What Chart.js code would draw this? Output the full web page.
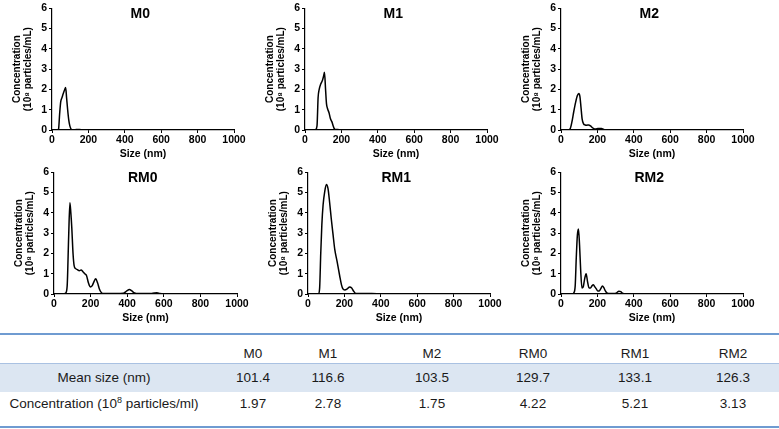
<!DOCTYPE html>
<html>
<head>
<meta charset="utf-8">
<script src="https://cdn.jsdelivr.net/npm/chart.js@4/dist/chart.umd.min.js"></script>
<style>
  body { margin: 0; width: 779px; height: 429px; position: relative; background: #fff; overflow: hidden;
         font-family: "Liberation Sans", Arial, sans-serif; }
  canvas { position: absolute; }
  .line { position: absolute; left: 0; width: 779px; height: 2px; background: #6f9bd1; }
  .band { position: absolute; left: 0; width: 779px; top: 363px; height: 28px; background: #dce6f2; border-top: 1px solid #a9c1e2; }
  .cell { position: absolute; transform: translate(-50%, -50%); font-size: 13.5px; color: #1a1a1a; white-space: nowrap; }
  sup { font-size: 9px; }
</style>
</head>
<body>
<canvas id="m0"></canvas>
<canvas id="m1"></canvas>
<canvas id="m2"></canvas>
<canvas id="rm0"></canvas>
<canvas id="rm1"></canvas>
<canvas id="rm2"></canvas>

<div class="line" style="top:333px"></div>
<div class="band"></div>
<div class="line" style="top:426px"></div>
<div id="table"></div>

<script>
// size distributions (nm vs 10^8 particles/mL)
const m0Size = [30, 36, 42, 48, 55, 62, 70, 75, 80, 86, 92, 98, 104, 110, 125, 140, 152, 165, 175];
const m0Conc = [0, 0.05, 0.8, 1.4, 1.6, 1.8, 2.0, 2.1, 1.6, 1.0, 0.5, 0.2, 0.06, 0.01, 0.01, 0.03, 0.03, 0.01, 0];

const m1Size = [50, 58, 66, 72, 78, 86, 96, 102, 107, 113, 118, 124, 132, 140, 148, 155, 162, 168, 180, 190];
const m1Conc = [0, 0.02, 0.2, 1.6, 2.0, 2.25, 2.45, 2.65, 2.85, 2.0, 1.3, 1.05, 0.85, 0.55, 0.4, 0.2, 0.05, 0.02, 0.02, 0];

const m2Size = [40, 50, 60, 70, 80, 90, 98, 104, 110, 116, 124, 132, 142, 152, 162, 172, 185, 198, 210, 222, 235, 245, 252];
const m2Conc = [0, 0.05, 0.4, 0.9, 1.35, 1.7, 1.8, 1.65, 1.1, 0.55, 0.3, 0.25, 0.24, 0.25, 0.2, 0.12, 0.05, 0.06, 0.08, 0.07, 0.03, 0.01, 0];

const rm0Size = [55, 64, 72, 80, 87, 92, 97, 104, 110, 118, 128, 138, 148, 158, 168, 178, 188, 198, 208, 218, 228, 238, 248, 258, 270, 300, 340, 380, 398, 412, 425, 440, 460, 500, 530, 548, 562, 578, 595];
const rm0Conc = [0, 0.05, 0.4, 2.8, 4.5, 4.0, 3.3, 2.0, 1.4, 1.25, 1.2, 1.15, 1.18, 1.1, 1.0, 0.9, 0.55, 0.35, 0.4, 0.6, 0.75, 0.55, 0.25, 0.08, 0.02, 0.02, 0.02, 0.04, 0.15, 0.22, 0.15, 0.05, 0.02, 0.02, 0.03, 0.05, 0.06, 0.03, 0];

const rm1Size = [50, 58, 64, 70, 76, 83, 92, 101, 110, 119, 128, 138, 147, 160, 174, 184, 192, 202, 215, 229, 240, 250, 262, 300, 350, 394];
const rm1Conc = [0, 0.02, 0.3, 2.0, 3.4, 4.4, 5.05, 5.4, 5.2, 4.5, 3.7, 2.9, 2.2, 1.6, 0.9, 0.45, 0.25, 0.2, 0.25, 0.35, 0.3, 0.15, 0.03, 0.02, 0.02, 0];

const rm2Size = [62, 70, 78, 84, 90, 96, 102, 108, 115, 122, 130, 138, 146, 154, 162, 170, 178, 186, 194, 202, 210, 218, 228, 236, 244, 252, 270, 296, 306, 318, 328, 338, 348];
const rm2Conc = [0, 0.05, 0.4, 1.8, 2.9, 3.2, 2.4, 1.2, 0.3, 0.35, 0.75, 1.0, 0.6, 0.3, 0.3, 0.4, 0.45, 0.35, 0.25, 0.15, 0.15, 0.25, 0.4, 0.3, 0.15, 0.05, 0.02, 0.02, 0.06, 0.14, 0.12, 0.04, 0];

const xTicks = [0, 200, 400, 600, 800, 1000];
const yTicks = [0, 1, 2, 3, 4, 5, 6];

// table values
const samples = ["M0", "M1", "M2", "RM0", "RM1", "RM2"];
const meanSize = ["101.4", "116.6", "103.5", "129.7", "133.1", "126.3"];
const concentration = ["1.97", "2.78", "1.75", "4.22", "5.21", "3.13"];

const AXIS_W = 52;
const AXIS_H = 33;
const PAD_TOP = 8;
const PAD_RIGHT = 18;
const FONT = "'Liberation Sans', Arial, sans-serif";

// draws the sample name inside the plot, top center
const panelName = {
  id: "panelName",
  afterDraw(chart, args, opts) {
    const { ctx, chartArea } = chart;
    ctx.save();
    ctx.font = "bold 14px " + FONT;
    ctx.fillStyle = "#000";
    ctx.textAlign = "center";
    ctx.textBaseline = "middle";
    ctx.fillText(opts.text, chartArea.left + (chartArea.right - chartArea.left) * 0.485, chartArea.top + 6);
    ctx.restore();
  },
};

function makePanel(id, name, sizes, conc, plotLeft, plotRight, plotTop) {
  const cv = document.getElementById(id);
  cv.width = plotRight - plotLeft + AXIS_W + PAD_RIGHT;
  cv.height = PAD_TOP + 122 + AXIS_H;
  cv.style.left = (plotLeft - AXIS_W) + "px";
  cv.style.top = (plotTop - PAD_TOP) + "px";

  const tickFont = { family: FONT, size: 10.5, weight: "bold" };

  new Chart(cv, {
    type: "line",
    data: {
      datasets: [{
        data: sizes.map((s, i) => ({ x: s, y: conc[i] })),
        borderColor: "#000",
        borderWidth: 1.5,
        pointRadius: 0,
        tension: 0.35,
        cubicInterpolationMode: "monotone",
        fill: false,
      }],
    },
    plugins: [panelName],
    options: {
      responsive: false,
      animation: false,
      layout: { padding: { top: PAD_TOP, right: PAD_RIGHT, left: 0, bottom: 0 } },
      plugins: {
        legend: { display: false },
        tooltip: { enabled: false },
        panelName: { text: name },
      },
      scales: {
        x: {
          type: "linear",
          min: 0,
          max: 1000,
          afterFit: (s) => { s.height = AXIS_H; },
          afterBuildTicks: (s) => { s.ticks = xTicks.map((v) => ({ value: v })); },
          border: { color: "#000", width: 1.2 },
          grid: { drawOnChartArea: false, drawTicks: true, tickLength: 3, color: "#000" },
          ticks: { color: "#000", font: tickFont, padding: 1, maxRotation: 0, callback: (v) => String(v) },
          title: {
            display: true,
            text: "Size (nm)",
            color: "#000",
            font: { family: FONT, size: 10.5, weight: "bold" },
            padding: { top: 0, bottom: 3 },
          },
        },
        y: {
          min: 0,
          max: 6,
          afterFit: (s) => { s.width = AXIS_W; },
          afterBuildTicks: (s) => { s.ticks = yTicks.map((v) => ({ value: v })); },
          border: { color: "#000", width: 1.2 },
          grid: { drawOnChartArea: false, drawTicks: true, tickLength: 3, color: "#000" },
          ticks: { color: "#000", font: tickFont, padding: 2, callback: (v) => String(v) },
          title: {
            display: true,
            text: ["Concentration", "(10\u2078 particles/mL)"],
            color: "#000",
            font: { family: FONT, size: 10, weight: "bold", lineHeight: 1.05 },
            padding: { top: 12, bottom: 0 },
          },
        },
      },
    },
  });
}

makePanel("m0", "M0", m0Size, m0Conc, 52, 234, 8);
makePanel("m1", "M1", m1Size, m1Conc, 305, 487, 8);
makePanel("m2", "M2", m2Size, m2Conc, 561, 743, 8);
makePanel("rm0", "RM0", rm0Size, rm0Conc, 54, 237, 172);
makePanel("rm1", "RM1", rm1Size, rm1Conc, 308, 490, 172);
makePanel("rm2", "RM2", rm2Size, rm2Conc, 561, 743, 172);

// summary table under the plots
const colX = [253, 328, 432, 533, 635, 733];
const rowY = [353, 377, 403];
const table = document.getElementById("table");
function cell(html, x, y) {
  const d = document.createElement("div");
  d.className = "cell";
  d.innerHTML = html;
  d.style.left = x + "px";
  d.style.top = y + "px";
  table.appendChild(d);
}
cell("Mean size (nm)", 104, rowY[1]);
cell("Concentration (10<sup>8</sup> particles/ml)", 104, rowY[2]);
samples.forEach((s, i) => {
  cell(s, colX[i], rowY[0]);
  cell(meanSize[i], colX[i], rowY[1]);
  cell(concentration[i], colX[i], rowY[2]);
});
</script>
</body>
</html>
